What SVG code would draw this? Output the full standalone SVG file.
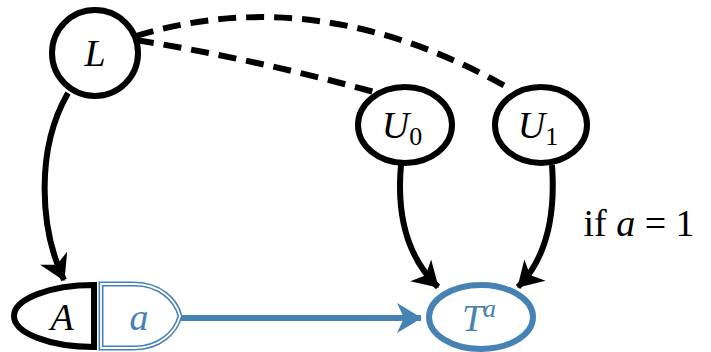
<svg xmlns="http://www.w3.org/2000/svg" width="711" height="352" viewBox="0 0 711 352">
<style>
.nd{fill:#fff;stroke:#000;stroke-width:6}
.i{font-style:italic}
.e{fill:none;stroke:#000;stroke-width:6}
.d{fill:none;stroke:#000;stroke-width:6;stroke-dasharray:18,10}
</style>
<defs>
<marker id="ak" markerWidth="10" markerHeight="10" refX="8" refY="5" orient="auto" markerUnits="userSpaceOnUse" viewBox="0 0 10 10" overflow="visible">
<path d="M-16,-10 L9,5 L-16,20 L-9,5 Z" fill="#000"/>
</marker>
<marker id="ab" markerWidth="10" markerHeight="10" refX="8" refY="5" orient="auto" markerUnits="userSpaceOnUse" viewBox="0 0 10 10" overflow="visible">
<path d="M-16,-10 L9,5 L-16,20 L-9,5 Z" fill="#4682b4"/>
</marker>
</defs>
<g id="edges">
<path class="d" d="M136,40 Q260,60 385,95"/>
<path class="d" d="M136,36 Q320,-20 512,90"/>
<path class="e" d="M68,93 C35,150 40,230 64,280" marker-end="url(#ak)"/>
<path class="e" d="M401,165 C396,220 410,260 438,287" marker-end="url(#ak)"/>
<path class="e" d="M552,165 C556,220 545,260 518,287" marker-end="url(#ak)"/>
<path d="M180,318 L421,318" fill="none" stroke="#4682b4" stroke-width="6" marker-end="url(#ab)"/>
</g>
<g font-family="Liberation Serif, DejaVu Serif, serif" font-size="38" text-anchor="middle">
<g id="L">
<circle class="nd" cx="95" cy="53" r="43"/>
<text class="i" x="95" y="66">L</text>
</g>
<g id="U0">
<ellipse class="nd" cx="405" cy="125" rx="47" ry="38"/>
<text x="402" y="138"><tspan class="i">U</tspan><tspan font-size="26" dy="7">0</tspan></text>
</g>
<g id="U1">
<ellipse class="nd" cx="541" cy="125" rx="46" ry="38"/>
<text x="538" y="138"><tspan class="i">U</tspan><tspan font-size="26" dy="7">1</tspan></text>
</g>
<g id="A">
<path class="nd" d="M94,285 L94,347 A80,31 0 0 1 94,285 Z"/>
<text class="i" x="62" y="330">A</text>
</g>
<g id="a">
<path d="M101,284 L134,284 C160,284 176,300 180,316 C176,332 160,348 134,348 L101,348 Z" fill="#fff" stroke="#4682b4" stroke-width="5"/>
<path d="M101,284 L134,284 C160,284 176,300 180,316 C176,332 160,348 134,348 L101,348 Z" fill="none" stroke="#fff" stroke-width="1.8"/>
<text class="i" x="139" y="330" fill="#4682b4">a</text>
</g>
<g id="T">
<ellipse cx="481" cy="317" rx="52" ry="32" fill="#fff" stroke="#4682b4" stroke-width="6"/>
<text x="479" y="331" fill="#4682b4"><tspan class="i">T</tspan><tspan class="i" font-size="26" dy="-14">a</tspan></text>
</g>
<text x="639" y="236">if <tspan class="i">a</tspan> = 1</text>
</g>
</svg>
